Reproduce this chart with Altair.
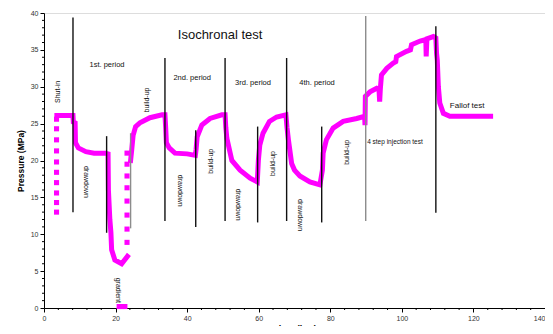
import altair as alt
import pandas as pd

# ---- continuous pressure record (hrs, MPa) ----
a_t = [3.6, 8.1, 8.2, 8.7, 8.8, 9.6, 11.7, 14.0, 17.2, 17.9, 18.0, 18.4, 18.7, 18.9, 19.8, 21.7, 23.3]
a_p = [26.1, 26.1, 25.2, 25.1, 22.4, 21.7, 21.2, 21.0, 21.0, 20.9, 16.0, 12.0, 10.2, 7.9, 6.5, 6.0, 7.0]

b_t = [24.2, 24.5, 24.9, 25.6, 26.8, 29.6, 33.0, 33.8,
       34.0, 34.2, 35.0, 36.6, 40.0, 42.3,
       42.5, 42.8, 44.1, 46.4, 49.7, 50.6,
       50.8, 51.1, 52.5, 54.8, 57.6, 59.6,
       59.9, 60.3, 61.2, 63.0, 65.0, 67.6,
       67.9, 68.3, 69.2, 70.0, 71.5, 74.3, 77.1,
       77.8, 78.0, 78.9, 80.8, 83.6, 87.4, 89.6,
       89.7, 89.8, 91.1, 93.0, 93.6, 93.8, 94.0, 94.3, 95.8, 97.6, 98.3, 98.5,
       101.3, 102.4, 102.7, 105.1, 106.7, 106.8, 107.0, 108.8, 109.5,
       109.7, 109.9, 110.2, 110.6, 111.6, 113.4, 124.8]
b_p = [20.0, 21.4, 23.4, 24.6, 25.1, 25.8, 26.2, 26.2,
       24.5, 22.4, 21.7, 21.0, 20.9, 20.7,
       21.5, 23.2, 24.8, 25.7, 26.2, 26.2,
       24.5, 23.0, 20.0, 18.7, 17.6, 17.1,
       20.0, 22.1, 23.7, 25.3, 25.9, 26.2,
       24.5, 22.8, 19.6, 18.7, 17.9, 17.1, 16.7,
       18.7, 21.0, 22.8, 24.4, 25.3, 25.7, 26.0,
       24.8, 28.7, 29.3, 29.8, 29.7, 28.0, 29.8, 31.6, 32.5, 33.2, 33.4, 34.1,
       34.8, 35.0, 35.7, 36.2, 36.4, 34.1, 36.5, 36.8, 36.6,
       34.5, 33.6, 30.0, 27.8, 26.4, 26.0, 26.0]

# ---- sparse (dotted) readings ----
dot_t = [3.5] * 10 + [23.2] * 8 + [21.0, 21.8, 22.6]
dot_p = [13.0, 14.3, 15.6, 17.0, 18.4, 19.8, 21.3, 22.8, 24.3, 25.6,
         8.9, 10.7, 12.6, 14.5, 16.3, 17.9, 19.5, 21.0,
         0.2, 0.2, 0.2]

# ---- period separators ----
rule_t = [8.1, 17.5, 24.2, 33.8, 42.4, 50.6, 59.7, 67.8, 77.6, 89.9, 109.5]
rule_lo = [13.0, 10.2, 10.8, 11.8, 11.0, 11.8, 11.6, 11.8, 11.6, 11.8, 12.9]
rule_hi = [39.4, 23.3, 23.7, 33.9, 24.1, 33.9, 24.6, 33.9, 24.6, 39.6, 38.2]
rule_col = ["k", "k", "g", "k", "k", "k", "k", "k", "k", "g", "k"]

# ---- axis ticks ----
x_major = [0, 20, 40, 60, 80, 100, 120, 140]
x_minor = [v for v in range(0, 141, 4) if v % 20 != 0]
y_major = [0, 5, 10, 15, 20, 25, 30, 35, 40]
y_minor = [v for v in range(0, 41) if v % 5 != 0]

# ---- annotations ----
period_txt = ["1st. period", "2nd. period", "3rd. period", "4th. period"]
period_t = [17.6, 41.4, 58.4, 76.3]
period_p = [33.0, 31.2, 30.5, 30.5]

up_txt = ["Shut-in", "build-up", "build-up", "build-up", "build-up"]
up_t = [3.9, 28.8, 46.8, 64.1, 84.6]
up_p = [29.3, 28.2, 19.9, 19.6, 21.1]

down_txt = ["drawdown", "gradient", "drawdown", "drawdown", "drawdown"]
down_t = [11.7, 20.7, 38.0, 54.3, 71.5]
down_p = [17.1, 2.4, 15.9, 14.0, 12.6]

FONT = "Liberation Sans"
MAG = "#ff00ff"
W, H = 501, 295

line_df = pd.DataFrame({
    "t": a_t + b_t,
    "p": a_p + b_p,
    "seg": ["a"] * len(a_t) + ["b"] * len(b_t),
    "i": list(range(len(a_t))) + list(range(len(b_t))),
})
dot_df = pd.DataFrame({"t": dot_t, "p": dot_p})
rule_df = pd.DataFrame({"t": rule_t, "lo": rule_lo, "hi": rule_hi, "c": rule_col})
period_df = pd.DataFrame({"t": period_t, "p": period_p, "txt": period_txt})
up_df = pd.DataFrame({"t": up_t, "p": up_p, "txt": up_txt})
down_df = pd.DataFrame({"t": down_t, "p": down_p, "txt": down_txt})
title_df = pd.DataFrame({"t": [49.2], "p": [37.0], "txt": ["Isochronal test"]})
inj_df = pd.DataFrame({"t": [90.3], "p": [22.5], "txt": ["4 step injection test"]})
fall_df = pd.DataFrame({"t": [113.4], "p": [27.4], "txt": ["Fallof test"]})
xminor_df = pd.DataFrame({"t": x_minor})
yminor_df = pd.DataFrame({"p": y_minor})

xs = alt.Scale(domain=[0, 140], nice=False, zero=False)
ys = alt.Scale(domain=[0, 40], nice=False, zero=False)

x_axis = alt.Axis(
    title="Time (hrs)", values=x_major, format="d",
    labelOverlap=False, labelFlush=False, tickSize=4,
    labelAlign={"condition": {"test": "datum.value === 140", "value": "right"}, "value": "center"},
    labelFontSize=7, labelColor="#333", labelPadding=2,
    titleFontSize=9, titleFontWeight="bold", titlePadding=3,
    domainColor="#000", tickColor="#000", grid=False,
)
y_axis = alt.Axis(
    title="Pressure (MPa)", values=y_major, format="d",
    labelOverlap=False, labelFlush=False, tickSize=4,
    labelFontSize=7, labelColor="#333", labelPadding=2,
    titleFontSize=8.5, titleFontWeight="bold", titlePadding=5,
    domainColor="#000", tickColor="#000", grid=False,
)

def X(f="t:Q"):
    return alt.X(f, scale=xs, axis=x_axis)

def Y(f="p:Q"):
    return alt.Y(f, scale=ys, axis=y_axis)

lines = alt.Chart(line_df).mark_line(
    color=MAG, strokeWidth=5, strokeCap="square", strokeJoin="miter"
).encode(x=X(), y=Y(), detail="seg:N", order="i:Q")

dots = alt.Chart(dot_df).mark_square(color=MAG, size=26, opacity=1).encode(x=X(), y=Y())

rules = alt.Chart(rule_df).mark_rule(strokeWidth=1.4).encode(
    x=X(), y=Y("lo:Q"), y2="hi:Q",
    color=alt.Color("c:N", scale=alt.Scale(domain=["k", "g"], range=["#111111", "#8c8c8c"]), legend=None),
)

xminor = alt.Chart(xminor_df).mark_rule(color="#000", strokeWidth=1).encode(
    x=X(), y=alt.value(H), y2=alt.value(H + 2)
)
yminor = alt.Chart(yminor_df).mark_rule(color="#000", strokeWidth=1).encode(
    y=Y(), x=alt.value(-2), x2=alt.value(0)
)

def txt(df, size, **kw):
    return alt.Chart(df).mark_text(font=FONT, fontSize=size, color="#111", **kw).encode(
        x=X(), y=Y(), text="txt:N"
    )

texts = [
    txt(title_df, 13),
    txt(period_df, 7.5),
    txt(up_df, 7, angle=270),
    txt(down_df, 7, angle=90),
    txt(inj_df, 6.5, align="left"),
    txt(fall_df, 8, align="left", fontWeight=500),
]

chart = alt.layer(lines, dots, rules, xminor, yminor, *texts).properties(
    width=W, height=H,
    autosize=alt.AutoSizeParams(type="none"),
    padding={"left": 36, "top": 5, "right": 0, "bottom": 18},
).configure_view(stroke=None).configure(font=FONT)

chart.save("out.html", embed_options={"renderer": "svg", "actions": False})
